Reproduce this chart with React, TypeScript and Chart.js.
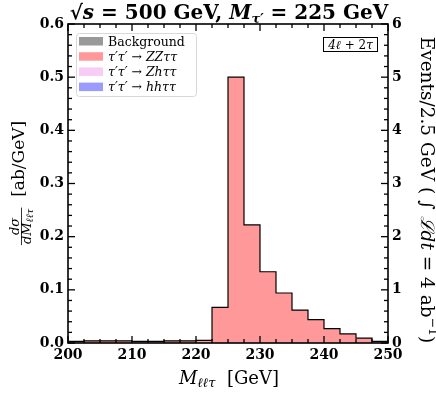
import React, { useEffect, useRef } from "react";
import { Chart, registerables } from "chart.js";

Chart.register(...registerables);

// ---- data ----
const binLowEdges = [200, 202.5, 205, 207.5, 210, 212.5, 215, 217.5, 220, 222.5, 225, 227.5, 230, 232.5, 235, 237.5, 240, 242.5, 245, 247.5];
const binUpperEnd = 250;
// dσ/dM [ab/GeV]
const zzValues = [0.003, 0.004, 0.004, 0.004, 0.003, 0.003, 0.004, 0.004, 0.005, 0.067, 0.5, 0.222, 0.134, 0.094, 0.062, 0.044, 0.027, 0.017, 0.009, 0.003];
const zhValues = [0, 0, 0, 0, 0, 0, 0, 0, 0, 0, 0, 0, 0, 0, 0, 0, 0, 0, 0, 0];
const hhValues = [0, 0, 0, 0, 0, 0, 0, 0, 0, 0, 0, 0, 0, 0, 0, 0, 0, 0, 0, 0];
const backgroundValues = [0, 0, 0, 0, 0, 0, 0, 0, 0, 0, 0, 0, 0, 0, 0, 0, 0, 0, 0, 0];

const xTickLabels = [200, 210, 220, 230, 240, 250];
const yTickLabels = [0.0, 0.1, 0.2, 0.3, 0.4, 0.5, 0.6];
const y2TickLabels = [0, 1, 2, 3, 4, 5, 6];

const legendItems = [
  { name: "Background", color: "#999999" },
  { name: "ZZ", color: "#ff9999" },
  { name: "Zh", color: "#f7cdf7" },
  { name: "hh", color: "#9a9aff" },
];

const SERIF = '"DejaVu Serif", serif';
const fnt = (size: number, style = "normal", weight = "normal") => `${style} ${weight} ${size}px ${SERIF}`;

type Seg = { t: string; f: string; dy?: number };

function richWidth(ctx: CanvasRenderingContext2D, segs: Seg[]) {
  let w = 0;
  for (const s of segs) {
    ctx.font = s.f;
    w += ctx.measureText(s.t).width;
  }
  return w;
}

function drawRich(ctx: CanvasRenderingContext2D, segs: Seg[], x: number, y: number, align: "left" | "center" | "right") {
  const w = richWidth(ctx, segs);
  let cx = align === "left" ? x : align === "center" ? x - w / 2 : x - w;
  ctx.textAlign = "left";
  ctx.textBaseline = "alphabetic";
  for (const s of segs) {
    ctx.font = s.f;
    ctx.fillText(s.t, cx, y + (s.dy || 0));
    cx += ctx.measureText(s.t).width;
  }
  return w;
}

function histPoints(values: number[]) {
  const pts = binLowEdges.map((e, i) => ({ x: e, y: values[i] }));
  pts.push({ x: binUpperEnd, y: values[values.length - 1] });
  return pts;
}

const decoPlugin = {
  id: "deco",
  afterDraw(chart: any) {
    const { ctx, chartArea: a, scales } = chart;
    const xs = scales.x;
    const ys = scales.y;
    const y2 = scales.y2;
    ctx.save();

    // frame
    ctx.strokeStyle = "#000";
    ctx.lineWidth = 1.6;
    ctx.strokeRect(a.left, a.top, a.right - a.left, a.bottom - a.top);

    // inward ticks
    ctx.fillStyle = "#000";
    const TW = 1.3;
    for (let i = 0; i <= 20; i++) {
      const v = 200 + i * 2.5;
      const px = xs.getPixelForValue(v);
      const L = i % 4 === 0 ? 7 : 4;
      ctx.fillRect(px - TW / 2, a.bottom - L, TW, L);
      ctx.fillRect(px - TW / 2, a.top, TW, L);
    }
    for (let i = 0; i <= 30; i++) {
      const py = ys.getPixelForValue(i * 0.02);
      const L = i % 5 === 0 ? 7 : 4;
      ctx.fillRect(a.left, py - TW / 2, L, TW);
    }
    for (let i = 0; i <= 30; i++) {
      const py = y2.getPixelForValue(i * 0.2);
      const L = i % 5 === 0 ? 7 : 4;
      ctx.fillRect(a.right - L, py - TW / 2, L, TW);
    }

    // title
    const T = 20;
    drawRich(
      ctx,
      [
        { t: "√", f: fnt(T, "normal", "bold") },
        { t: "s", f: fnt(T, "italic", "bold") },
        { t: " = 500 GeV, ", f: fnt(T, "normal", "bold") },
        { t: "M", f: fnt(T, "italic", "bold") },
        { t: "τ′", f: fnt(13, "italic", "bold"), dy: 4 },
        { t: " = 225 GeV", f: fnt(T, "normal", "bold") },
      ],
      229,
      19,
      "center"
    );

    // x title
    drawRich(
      ctx,
      [
        { t: "M", f: fnt(18, "italic") },
        { t: "ℓℓτ", f: fnt(13, "italic"), dy: 3 },
        { t: "  [GeV]", f: fnt(18) },
      ],
      229,
      384,
      "center"
    );

    // left y title (rotated)
    ctx.save();
    ctx.translate(21, 183);
    ctx.rotate(-Math.PI / 2);
    const num: Seg[] = [{ t: "dσ", f: fnt(13, "italic") }];
    const den: Seg[] = [
      { t: "dM", f: fnt(13, "italic") },
      { t: "ℓℓτ", f: fnt(10, "italic"), dy: 2 },
    ];
    const unit: Seg[] = [{ t: "  [ab/GeV]", f: fnt(17) }];
    const fw = Math.max(richWidth(ctx, num), richWidth(ctx, den)) + 2;
    const uw = richWidth(ctx, unit);
    const total = fw + uw;
    const fx = -total / 2;
    drawRich(ctx, num, fx + fw / 2, -2, "center");
    drawRich(ctx, den, fx + fw / 2, 10, "center");
    ctx.lineWidth = 0.8;
    ctx.beginPath();
    ctx.moveTo(fx, 0.5);
    ctx.lineTo(fx + fw, 0.5);
    ctx.stroke();
    drawRich(ctx, unit, fx + fw, 3, "left");
    ctx.restore();

    // right y title (rotated)
    ctx.save();
    ctx.translate(421, 190);
    ctx.rotate(Math.PI / 2);
    const R = 18.5;
    drawRich(
      ctx,
      [
        { t: "Events/2.5 GeV ( ", f: fnt(R) },
        { t: "∫", f: fnt(R) },
        { t: " ℒ", f: fnt(R, "italic") },
        { t: "dt", f: fnt(R, "italic") },
        { t: " = 4 ab", f: fnt(R) },
        { t: "−1", f: fnt(12.5), dy: -8 },
        { t: ")", f: fnt(R) },
      ],
      0,
      0,
      "center"
    );
    ctx.restore();

    // legend
    const lx = 76.5, ly = 33.5, lw = 120, lh = 63;
    ctx.fillStyle = "rgba(255,255,255,0.9)";
    ctx.strokeStyle = "#d8d8d8";
    ctx.lineWidth = 1;
    ctx.beginPath();
    (ctx as any).roundRect(lx, ly, lw, lh, 3);
    ctx.fill();
    ctx.stroke();
    legendItems.forEach((it, i) => {
      const cy = 41 + i * 15.2;
      ctx.fillStyle = it.color;
      ctx.fillRect(79, cy - 4, 24, 8.5);
      ctx.fillStyle = "#000";
      if (it.name === "Background") {
        drawRich(ctx, [{ t: "Background", f: fnt(12.5) }], 108, cy + 4.5, "left");
      } else {
        drawRich(
          ctx,
          [
            { t: "τ′τ′ ", f: fnt(12.5, "italic") },
            { t: "→ ", f: fnt(12.5) },
            { t: it.name + "ττ", f: fnt(12.5, "italic") },
          ],
          108,
          cy + 4.5,
          "left"
        );
      }
    });

    // channel box
    ctx.strokeStyle = "#000";
    ctx.lineWidth = 1;
    ctx.fillStyle = "#fff";
    ctx.fillRect(323.5, 37.5, 54, 14);
    ctx.strokeRect(323.5, 37.5, 54, 14);
    ctx.fillStyle = "#000";
    drawRich(
      ctx,
      [
        { t: "4ℓ", f: fnt(12, "italic") },
        { t: " + 2", f: fnt(12) },
        { t: "τ", f: fnt(12, "italic") },
      ],
      350.5,
      48.5,
      "center"
    );

    ctx.restore();
  },
};

export default function App() {
  const ref = useRef<HTMLCanvasElement | null>(null);
  useEffect(() => {
    document.body.style.margin = "0";
    if (!ref.current) return;
    const tickFont = { family: SERIF, size: 14, weight: "bold" as const };
    const mkDs = (label: string, vals: number[], color: string, bw: number) => ({
      label,
      data: histPoints(vals),
      stepped: "before" as const,
      fill: "origin",
      backgroundColor: color,
      borderColor: "#000",
      borderWidth: bw,
      pointRadius: 0,
      yAxisID: "y",
    });
    const chart = new Chart(ref.current, {
      type: "line",
      data: {
        datasets: [
          mkDs("τ′τ′ → ZZττ", zzValues, "#ff9999", 1.2),
          mkDs("τ′τ′ → Zhττ", zhValues, "#f7cdf7", 0),
          mkDs("τ′τ′ → hhττ", hhValues, "#9a9aff", 0),
          mkDs("Background", backgroundValues, "#999999", 0),
        ] as any,
      },
      options: {
        animation: false,
        responsive: true,
        maintainAspectRatio: false,
        layout: { padding: { top: 24, left: 0, right: 0, bottom: 0 } },
        plugins: { legend: { display: false }, tooltip: { enabled: false }, title: { display: false } },
        scales: {
          x: {
            type: "linear",
            min: 200,
            max: 250,
            grid: { display: false, drawTicks: false },
            border: { display: false },
            afterBuildTicks: (s: any) => {
              s.ticks = xTickLabels.map((v) => ({ value: v }));
            },
            ticks: { font: tickFont, color: "#000", padding: 4, maxRotation: 0, autoSkip: false },
            afterFit: (s: any) => {
              s.height = 52;
            },
          },
          y: {
            position: "left",
            min: 0,
            max: 0.6,
            grid: { display: false, drawTicks: false },
            border: { display: false },
            afterBuildTicks: (s: any) => {
              s.ticks = yTickLabels.map((v) => ({ value: v }));
            },
            ticks: { font: tickFont, color: "#000", padding: 4, callback: (v: any) => Number(v).toFixed(1) },
            afterFit: (s: any) => {
              s.width = 68;
            },
          },
          y2: {
            position: "right",
            min: 0,
            max: 6,
            grid: { display: false, drawTicks: false },
            border: { display: false },
            afterBuildTicks: (s: any) => {
              s.ticks = y2TickLabels.map((v) => ({ value: v }));
            },
            ticks: { font: tickFont, color: "#000", padding: 4 },
            afterFit: (s: any) => {
              s.width = 48;
            },
          },
        },
      } as any,
      plugins: [decoPlugin],
    });
    return () => chart.destroy();
  }, []);
  return (
    <div style={{ width: 436, height: 395, position: "relative", background: "#fff" }}>
      <canvas ref={ref} />
    </div>
  );
}
